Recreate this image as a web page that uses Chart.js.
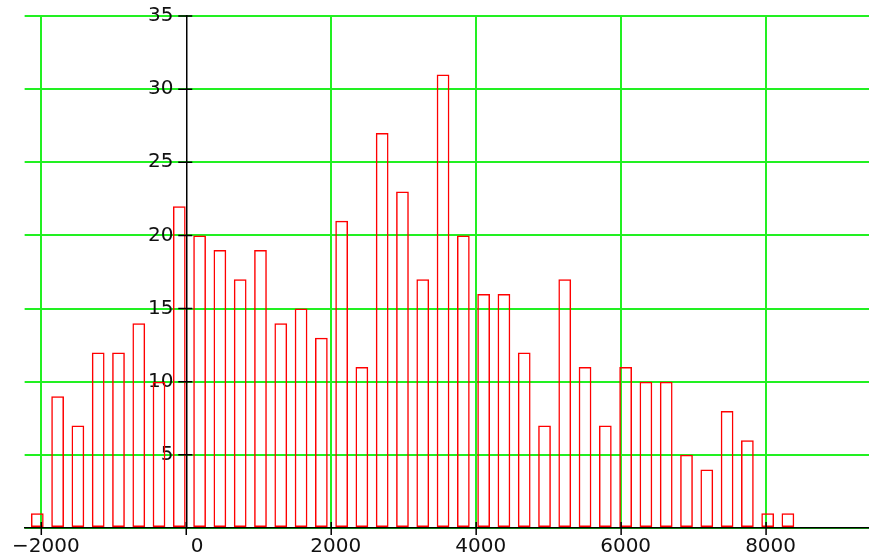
<!DOCTYPE html>
<html>
<head>
<meta charset="utf-8">
<script src="https://cdn.jsdelivr.net/npm/chart.js@4.4.1/dist/chart.umd.min.js"></script>
<style>
    html, body { margin: 0; padding: 0; background: #fff; }
    #wrap { width: 869px; height: 558px; }
</style>
</head>
<body>
<div id="wrap"><canvas id="myChart" width="869" height="558"></canvas></div>
<script>
// bin centres and counts
const BIN_CENTERS = [-2055, -1775, -1495, -1215, -935, -655, -376, -96, 184, 464,
    744, 1024, 1304, 1584, 1864, 2144, 2423, 2703, 2983, 3263,
    3543, 3823, 4103, 4383, 4663, 4943, 5222, 5502, 5782, 6062,
    6342, 6622, 6902, 7182, 7462, 7742, 8022, 8301];
const COUNTS = [1, 9, 7, 12, 12, 14, 10, 22, 20, 19,
    17, 19, 14, 15, 13, 21, 11, 27, 23, 17,
    31, 20, 16, 16, 12, 7, 17, 11, 7, 11,
    10, 10, 5, 4, 8, 6, 1, 1];
const X_TICKS = [-2000, 0, 2000, 4000, 6000, 8000];
const Y_TICKS = [0, 5, 10, 15, 20, 25, 30, 35];

const GRID = '#22f022';
const FONT = { family: 'DejaVu Sans', size: 20 };

// small black tick marks that cross both axes
const crossTicks = {
    id: 'crossTicks',
    afterDraw(chart) {
        const { ctx, scales: { x, y } } = chart;
        const x0 = x.getPixelForValue(0);
        const y0 = y.getPixelForValue(0);
        ctx.save();
        ctx.strokeStyle = '#000';
        ctx.lineWidth = 1.5;
        ctx.beginPath();
        X_TICKS.forEach(v => {
            const px = x.getPixelForValue(v);
            ctx.moveTo(px, y0 - 6);
            ctx.lineTo(px, y0 + 7);
        });
        Y_TICKS.forEach(v => {
            if (v === 0) return;
            const py = y.getPixelForValue(v);
            ctx.moveTo(x0 - 8, py);
            ctx.lineTo(x0 + 6, py);
        });
        ctx.stroke();
        ctx.restore();
    }
};

const ctx = document.getElementById('myChart').getContext('2d');
const chart = new Chart(ctx, {
    type: 'bar',
    data: {
        datasets: [{
            data: BIN_CENTERS.map((c, i) => ({ x: c, y: COUNTS[i] })),
            backgroundColor: 'rgba(0,0,0,0)',
            borderColor: '#ff0000',
            borderWidth: 1.5,
            borderSkipped: false,
            categoryPercentage: 1,
            barPercentage: 0.63
        }]
    },
    options: {
        responsive: false,
        animation: false,
        layout: { padding: { left: 24, right: 0, top: 16, bottom: 0 } },
        plugins: { legend: { display: false }, tooltip: { enabled: false } },
        scales: {
            x: {
                type: 'linear',
                min: -2230,
                max: 9420,
                offset: false,
                afterBuildTicks: s => { s.ticks = X_TICKS.map(v => ({ value: v })); },
                afterFit: s => { s.height = 30; },
                grid: {
                    color: c => (c.tick && c.tick.value === 0) ? 'rgba(0,0,0,0)' : GRID,
                    lineWidth: 2,
                    drawTicks: false,
                    offset: false
                },
                border: { color: '#000', width: 1.5 },
                ticks: {
                    font: FONT,
                    color: '#111',
                    padding: 7,
                    labelOffset: 4.5,
                    maxRotation: 0,
                    autoSkip: false,
                    callback: v => v === 0 ? '\u20070' : String(v).replace('-', '\u2212')
                }
            },
            y: {
                position: { x: 0 },
                min: 0,
                max: 35,
                afterBuildTicks: s => { s.ticks = Y_TICKS.map(v => ({ value: v })); },
                afterFit: s => { s.paddingTop = 0; s.paddingBottom = 0; },
                grid: { color: GRID, lineWidth: 2, drawTicks: false },
                border: { color: '#000', width: 1.5 },
                ticks: {
                    font: FONT,
                    color: '#111',
                    padding: 0,
                    callback: v => v === 0 ? '' : String(v) + '\u2007'
                }
            }
        }
    },
    plugins: [crossTicks]
});
</script>
</body>
</html>
